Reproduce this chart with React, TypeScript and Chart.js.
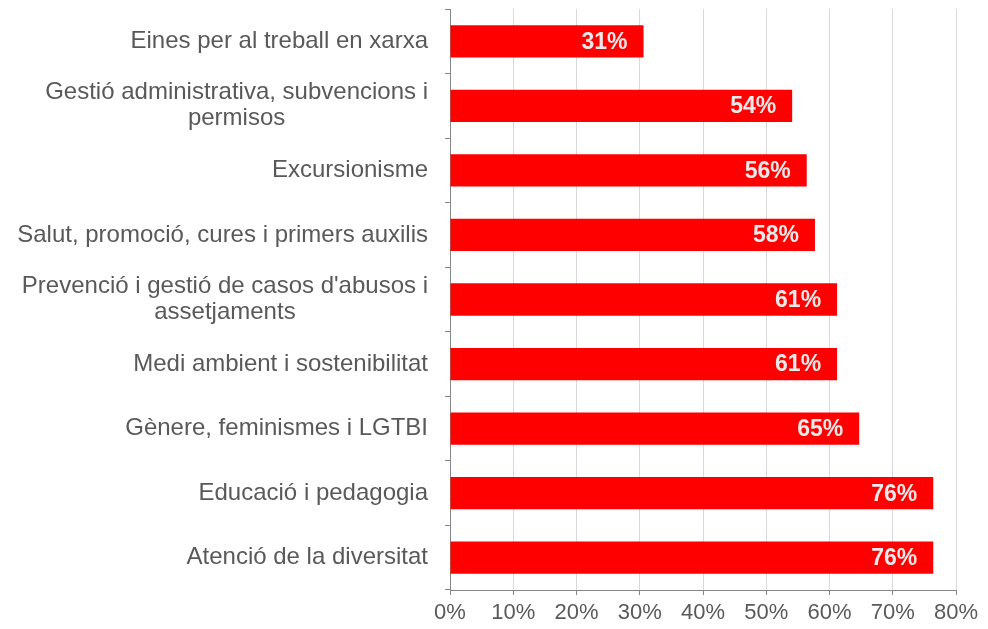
import React, { useEffect, useRef } from "react";
import { Chart, registerables } from "chart.js";

Chart.register(...registerables);

const categories: string[][] = [
  ["Eines per al treball en xarxa"],
  ["Gestió administrativa, subvencions i", "permisos"],
  ["Excursionisme"],
  ["Salut, promoció, cures i primers auxilis"],
  ["Prevenció i gestió de casos d'abusos i", "assetjaments"],
  ["Medi ambient i sostenibilitat"],
  ["Gènere, feminismes i LGTBI"],
  ["Educació i pedagogia"],
  ["Atenció de la diversitat"],
];

const values: number[] = [30.6, 54.1, 56.4, 57.7, 61.2, 61.2, 64.7, 76.4, 76.4];

const xTicks: number[] = [0, 10, 20, 30, 40, 50, 60, 70, 80];

const FONT = "'Liberation Sans', Arial, sans-serif";
const TEXT_GRAY = "#595959";

const categoryLabelPlugin = {
  id: "categoryLabels",
  afterDraw(chart: any) {
    const yScale = chart.scales.y;
    const ctx = chart.ctx;
    ctx.save();
    ctx.font = `24px ${FONT}`;
    ctx.fillStyle = TEXT_GRAY;
    ctx.textAlign = "center";
    ctx.textBaseline = "middle";
    const right = yScale.right - 22;
    const lineH = 26;
    categories.forEach((lines, i) => {
      const yc = yScale.getPixelForValue(i);
      const w = Math.max(...lines.map((l) => ctx.measureText(l).width));
      const cx = right - w / 2;
      const startY = yc - ((lines.length - 1) * lineH) / 2;
      lines.forEach((l, j) => ctx.fillText(l, cx, startY + j * lineH));
    });
    ctx.restore();
  },
};

const valueLabelPlugin = {
  id: "valueLabels",
  afterDatasetsDraw(chart: any) {
    const ctx = chart.ctx;
    const meta = chart.getDatasetMeta(0);
    ctx.save();
    ctx.font = `bold 23px ${FONT}`;
    ctx.fillStyle = "#eaeaea";
    ctx.textAlign = "right";
    ctx.textBaseline = "middle";
    meta.data.forEach((bar: any, i: number) => {
      ctx.fillText(Math.round(values[i]) + "%", bar.x - 16, bar.y + 1);
    });
    ctx.restore();
  },
};

export default function App() {
  const canvasRef = useRef<HTMLCanvasElement | null>(null);

  useEffect(() => {
    if (!canvasRef.current) return;
    const chart = new Chart(canvasRef.current, {
      type: "bar",
      data: {
        labels: categories.map((c) => c.join(" ")),
        datasets: [
          {
            data: values,
            backgroundColor: "#ff0000",
            borderWidth: 0,
            barPercentage: 0.5,
            categoryPercentage: 1.0,
          },
        ],
      },
      options: {
        indexAxis: "y",
        animation: false,
        responsive: true,
        maintainAspectRatio: false,
        layout: { padding: { left: 0, right: 32, top: 9, bottom: 0 } },
        plugins: {
          legend: { display: false },
          tooltip: { enabled: false },
        },
        scales: {
          x: {
            min: 0,
            max: 80,
            afterBuildTicks: (scale: any) => {
              scale.ticks = xTicks.map((v) => ({ value: v }));
            },
            afterFit: (scale: any) => {
              scale.height = 39;
            },
            ticks: {
              callback: (v: any) => v + "%",
              color: TEXT_GRAY,
              font: { family: FONT, size: 22 },
              padding: 5,
              maxRotation: 0,
            },
            grid: {
              color: "#d9d9d9",
              lineWidth: 1,
              drawTicks: true,
              tickLength: 5,
              tickColor: "#868686",
            },
            border: { color: "#868686", width: 1 },
          },
          y: {
            afterFit: (scale: any) => {
              scale.width = 450;
              scale.paddingTop = 0;
              scale.paddingBottom = 0;
            },
            ticks: {
              color: "rgba(0,0,0,0)",
              font: { family: FONT, size: 2 },
            },
            grid: {
              drawOnChartArea: false,
              drawTicks: true,
              tickLength: 5,
              offset: true,
              color: "#868686",
              tickColor: "#868686",
            },
            border: { color: "#868686", width: 1 },
          },
        },
      },
      plugins: [categoryLabelPlugin, valueLabelPlugin],
    });
    return () => chart.destroy();
  }, []);

  return (
    <div
      style={{
        position: "fixed",
        left: 0,
        top: 0,
        width: 988,
        height: 629,
        background: "#ffffff",
      }}
    >
      <canvas ref={canvasRef} />
    </div>
  );
}
